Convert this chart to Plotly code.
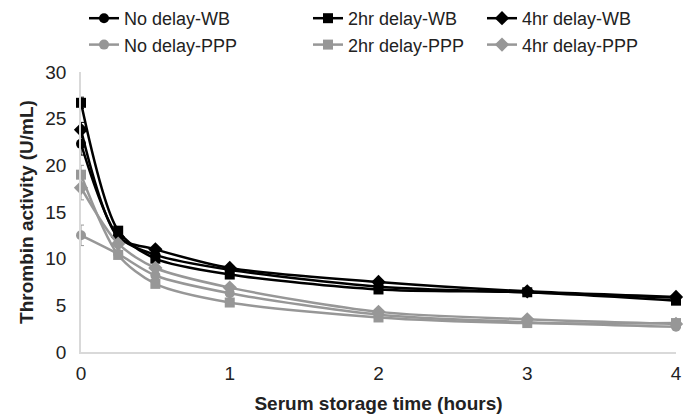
import plotly.graph_objects as go

hours = [0, 0.25, 0.5, 1, 2, 3, 4]

no_delay_wb = [22.3, 12.4, 10.4, 8.8, 7.0, 6.4, 5.8]
hr2_delay_wb = [26.7, 13.0, 10.0, 8.3, 6.7, 6.4, 5.5]
hr4_delay_wb = [23.8, 12.3, 11.0, 9.0, 7.5, 6.5, 5.9]
no_delay_ppp = [12.5, 10.5, 8.2, 6.3, 4.0, 3.2, 2.7]
hr2_delay_ppp = [19.0, 10.4, 7.3, 5.3, 3.7, 3.1, 3.1]
hr4_delay_ppp = [17.6, 11.6, 9.0, 6.9, 4.3, 3.5, 3.0]

err_no_wb = [1.2, 0.4, 0.3, 0.3, 0.2, 0.2, 0.2]
err_2_wb = [0.6, 0.4, 0.3, 0.3, 0.2, 0.2, 0.2]
err_4_wb = [0.8, 0.4, 0.3, 0.3, 0.2, 0.2, 0.2]
err_no_ppp = [1.1, 0.4, 0.3, 0.3, 0.2, 0.2, 0.2]
err_2_ppp = [1.0, 0.4, 0.3, 0.3, 0.2, 0.2, 0.2]
err_4_ppp = [1.3, 0.4, 0.3, 0.3, 0.2, 0.2, 0.2]

BLACK = "#000000"
GRAY = "#979797"
FONT = "Liberation Sans, Arial, sans-serif"

series = [
    ("No delay-WB", no_delay_wb, err_no_wb, BLACK, "circle", "legend"),
    ("2hr delay-WB", hr2_delay_wb, err_2_wb, BLACK, "square", "legend2"),
    ("4hr delay-WB", hr4_delay_wb, err_4_wb, BLACK, "diamond", "legend3"),
    ("No delay-PPP", no_delay_ppp, err_no_ppp, GRAY, "circle", "legend"),
    ("2hr delay-PPP", hr2_delay_ppp, err_2_ppp, GRAY, "square", "legend2"),
    ("4hr delay-PPP", hr4_delay_ppp, err_4_ppp, GRAY, "diamond", "legend3"),
]

fig = go.Figure()
for name, vals, err, col, sym, leg in series:
    fig.add_trace(go.Scatter(
        x=hours, y=vals, name=name, mode="lines+markers",
        line=dict(color=col, width=2.5, shape="spline", smoothing=0.8),
        marker=dict(color=col, symbol=sym, size=10 if sym != "diamond" else 11),
        error_y=dict(type="data", array=err, visible=True, color=col, thickness=1, width=3),
        legend=leg, cliponaxis=False,
    ))

W, H = 688, 420
L, R, T, B = 81, 12, 72, 68
pw, ph = W - L - R, H - T - B


def px_x(p):
    return (p - L) / pw


def px_y(p):
    return (H - B - p) / ph


leg_common = dict(orientation="v", yanchor="top", xanchor="left", y=px_y(0),
                  font=dict(family=FONT, size=18, color="#222222"),
                  itemwidth=30, bgcolor="rgba(0,0,0,0)", tracegroupgap=0)

fig.update_layout(
    width=W, height=H,
    margin=dict(l=L, r=R, t=T, b=B, autoexpand=False),
    paper_bgcolor="white", plot_bgcolor="white",
    font=dict(family=FONT, size=19, color="#222222"),
    legend=dict(**leg_common, x=px_x(84)),
    legend2=dict(**leg_common, x=px_x(308)),
    legend3=dict(**leg_common, x=px_x(482)),
    xaxis=dict(range=[0, 4], tickvals=[0, 1, 2, 3, 4], showgrid=False, zeroline=False,
               showline=True, linecolor="#d9d9d9", linewidth=1.5, ticks="",
               tickfont=dict(size=19), ticklabelstandoff=3,
               title=dict(text="<b>Serum storage time (hours)</b>", font=dict(size=19), standoff=14)),
    yaxis=dict(range=[0, 30], tickvals=[0, 5, 10, 15, 20, 25, 30], showgrid=False, zeroline=False,
               showline=True, linecolor="#d9d9d9", linewidth=1.5, ticks="",
               tickfont=dict(size=19), ticklabelstandoff=9,
               title=dict(text="<b>Thrombin activity (U/mL)</b>", font=dict(size=19), standoff=7)),
)

fig.write_html("out.html")
